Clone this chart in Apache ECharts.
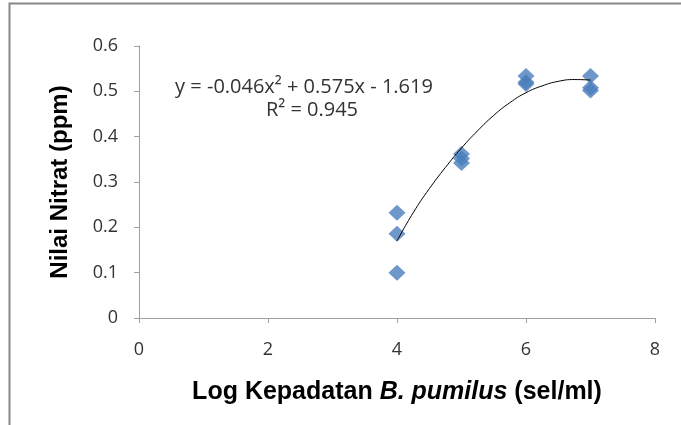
<!DOCTYPE html>
<html>
<head>
<meta charset="utf-8">
<script src="https://cdn.jsdelivr.net/npm/echarts@6/dist/echarts.min.js"></script>
<style>
  html, body { margin: 0; padding: 0; background: #fff; }
  #chart { width: 681px; height: 425px; }
</style>
</head>
<body>
<div id="chart"></div>
<script>
  // data
  const logDensity = [4, 4, 4, 5, 5, 5, 6, 6, 6, 7, 7, 7] // Log kepadatan
  const nitrate = [0.232, 0.186, 0.100, 0.362, 0.352, 0.342, 0.534, 0.520, 0.516, 0.534, 0.508, 0.502] // nilai nitrat
  const trendX = [4, 4.25, 4.5, 4.75, 5, 5.25, 5.5, 5.75, 6, 6.25, 6.5, 6.75, 7] // garis tren
  const trendY = [0.170, 0.232, 0.285, 0.332, 0.375, 0.413, 0.447, 0.475, 0.497, 0.512, 0.522, 0.526, 0.525]
  const equationText = 'y = -0.046x² + 0.575x - 1.619'
  const r2Text = 'R² = 0.945'

  const FONT = '"Open Sans", "Noto Sans", sans-serif'
  const BOLD = '"Liberation Sans", Arial, sans-serif'
  const chart = echarts.init(document.getElementById('chart'))
  chart.setOption({
    animation: false,
    backgroundColor: '#fff',
    grid: { left: 139, right: 26, top: 46, bottom: 107 },
    xAxis: {
      type: 'value',
      min: 0,
      max: 8,
      interval: 2,
      name: '{n|Log Kepadatan }{i|B. pumilus}{n| (sel/ml)}',
      nameLocation: 'middle',
      nameGap: 62,
      nameTextStyle: {
        rich: {
          n: { fontFamily: BOLD, fontWeight: 'bold', fontSize: 25, color: '#000' },
          i: { fontFamily: BOLD, fontWeight: 'bold', fontStyle: 'italic', fontSize: 25, color: '#000' }
        }
      },
      axisLine: { show: true, lineStyle: { color: '#a0a0a0', width: 1 } },
      axisTick: { show: true, length: 5, lineStyle: { color: '#a0a0a0' } },
      axisLabel: { margin: 23, fontFamily: FONT, fontSize: 18, color: '#333' },
      splitLine: { show: false }
    },
    yAxis: {
      type: 'value',
      min: 0,
      max: 0.6,
      interval: 0.1,
      name: 'Nilai Nitrat (ppm)',
      nameLocation: 'middle',
      nameGap: 67,
      nameTextStyle: { fontFamily: BOLD, fontWeight: 'bold', fontSize: 24, color: '#000' },
      axisLine: { show: true, lineStyle: { color: '#a0a0a0', width: 1 } },
      axisTick: { show: true, length: 5, lineStyle: { color: '#a0a0a0' } },
      axisLabel: { margin: 21, fontFamily: FONT, fontSize: 18, color: '#333' },
      splitLine: { show: false }
    },
    graphic: [
      { // bingkai
        type: 'rect',
        shape: { x: 9.5, y: 3.5, width: 700, height: 450 },
        style: { fill: 'none', stroke: '#888', lineWidth: 2 },
        silent: true
      },
      {
        type: 'text',
        x: 304,
        y: 87,
        style: { text: equationText, font: '20px ' + FONT, fill: '#333', align: 'center', verticalAlign: 'middle' }
      },
      {
        type: 'text',
        x: 312,
        y: 110,
        style: { text: r2Text, font: '20px ' + FONT, fill: '#333', align: 'center', verticalAlign: 'middle' }
      }
    ],
    series: [
      {
        type: 'scatter',
        symbol: 'diamond',
        symbolSize: [17, 16],
        itemStyle: { color: '#4a7ebb' },
        data: logDensity.map((x, i) => [x, nitrate[i]]),
        z: 3
      },
      {
        type: 'line',
        smooth: true,
        showSymbol: false,
        lineStyle: { color: '#000', width: 1 },
        data: trendX.map((x, i) => [x, trendY[i]]),
        z: 4
      }
    ]
  })
</script>
</body>
</html>
